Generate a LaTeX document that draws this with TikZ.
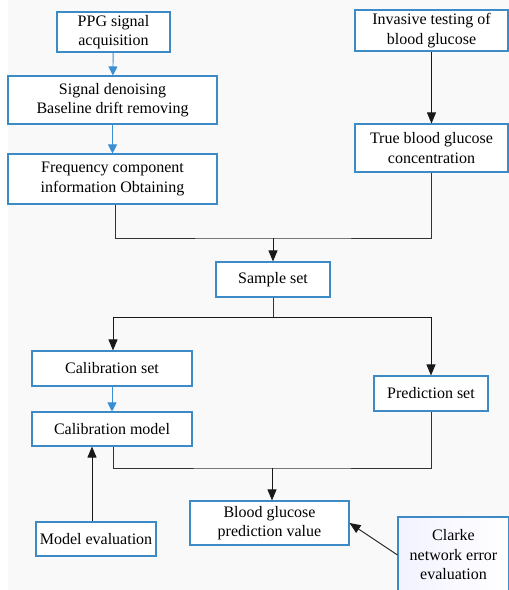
\documentclass[tikz,border=0pt]{standalone}
\usepackage{fontspec}
\setmainfont{Liberation Serif}
\usetikzlibrary{arrows.meta}
\definecolor{bord}{HTML}{3D8BC6}
\definecolor{barr}{HTML}{3A8FD3}
\definecolor{bg}{HTML}{F9F9F9}
\tikzset{
  box/.style={draw=bord, line width=1.1pt, fill=white, align=center, inner sep=0pt,
    font=\fontsize{16}{19.5}\selectfont},
  blk/.style={draw=black!80, line width=0.9pt},
  barrow/.style={draw=barr, line width=0.9pt, -{Triangle[length=9pt,width=9pt]}},
  karrow/.style={draw=black!90, line width=0.9pt, -{Triangle[length=11pt,width=9pt]}},
}
\begin{document}
\begin{tikzpicture}[x=1pt,y=-1pt]
\useasboundingbox (0,0) rectangle (509,590);
\fill[bg] (8,0) rectangle (509,590);
\node[box, minimum width=113, minimum height=40] (ppg) at (113.5,32) {PPG signal\\acquisition};
\node[box, minimum width=209, minimum height=48] (den) at (112.5,100) {Signal denoising\\Baseline drift removing};
\node[box, minimum width=209, minimum height=50] (frq) at (112.5,179) {Frequency component\\information Obtaining};
\node[box, minimum width=153, minimum height=41] (inv) at (431.5,30.5) {Invasive testing of\\blood glucose};
\node[box, minimum width=153, minimum height=48] (tru) at (431.5,148) {True blood glucose\\concentration};
\node[box, minimum width=114, minimum height=35] (sam) at (273,279.5) {Sample set};
\node[box, minimum width=160, minimum height=35] (cset) at (112,368.5) {Calibration set};
\node[box, minimum width=114, minimum height=35] (pset) at (431,393.5) {Prediction set};
\node[box, minimum width=160, minimum height=34] (cmod) at (112,429) {Calibration model};
\node[box, minimum width=159, minimum height=44] (bgp) at (269.5,523) {Blood glucose\\prediction value};
\node[box, minimum width=120, minimum height=34] (mev) at (96,539) {Model evaluation};
\node[box, minimum width=111, minimum height=76, left color=blue!5, right color=white] (clk) at (453.5,555) {Clarke\\network error\\evaluation};
\coordinate (j1) at (273,238);
\coordinate (j2) at (273,317);
\coordinate (j3) at (272,468);
% blue arrows
\draw[barrow] (ppg) -- (den);
\draw[barrow] (den) -- (frq);
\draw[barrow] (cset) -- (cmod);
% black
\draw[karrow] (inv) -- (tru);
\draw[blk] ([xshift=2.5pt]frq.south) |- (j1) -| (tru.south);
\draw[karrow] (j1) -- (sam.north);
\draw[blk] (sam.south) -- (j2);
\draw[karrow] (j2) -| ([xshift=1pt]cset.north);
\draw[karrow] (j2) -| (pset.north);
\draw[blk] ([xshift=1pt]cmod.south) |- (j3) -| (pset.south);
\draw[karrow] (j3) -- (j3 |- bgp.north);
\draw[karrow] ([xshift=-4pt]mev.north) -- ([xshift=-4pt]mev.north |- cmod.south);
\draw[karrow] (clk.west) -- (bgp.east);
\end{tikzpicture}
\end{document}
